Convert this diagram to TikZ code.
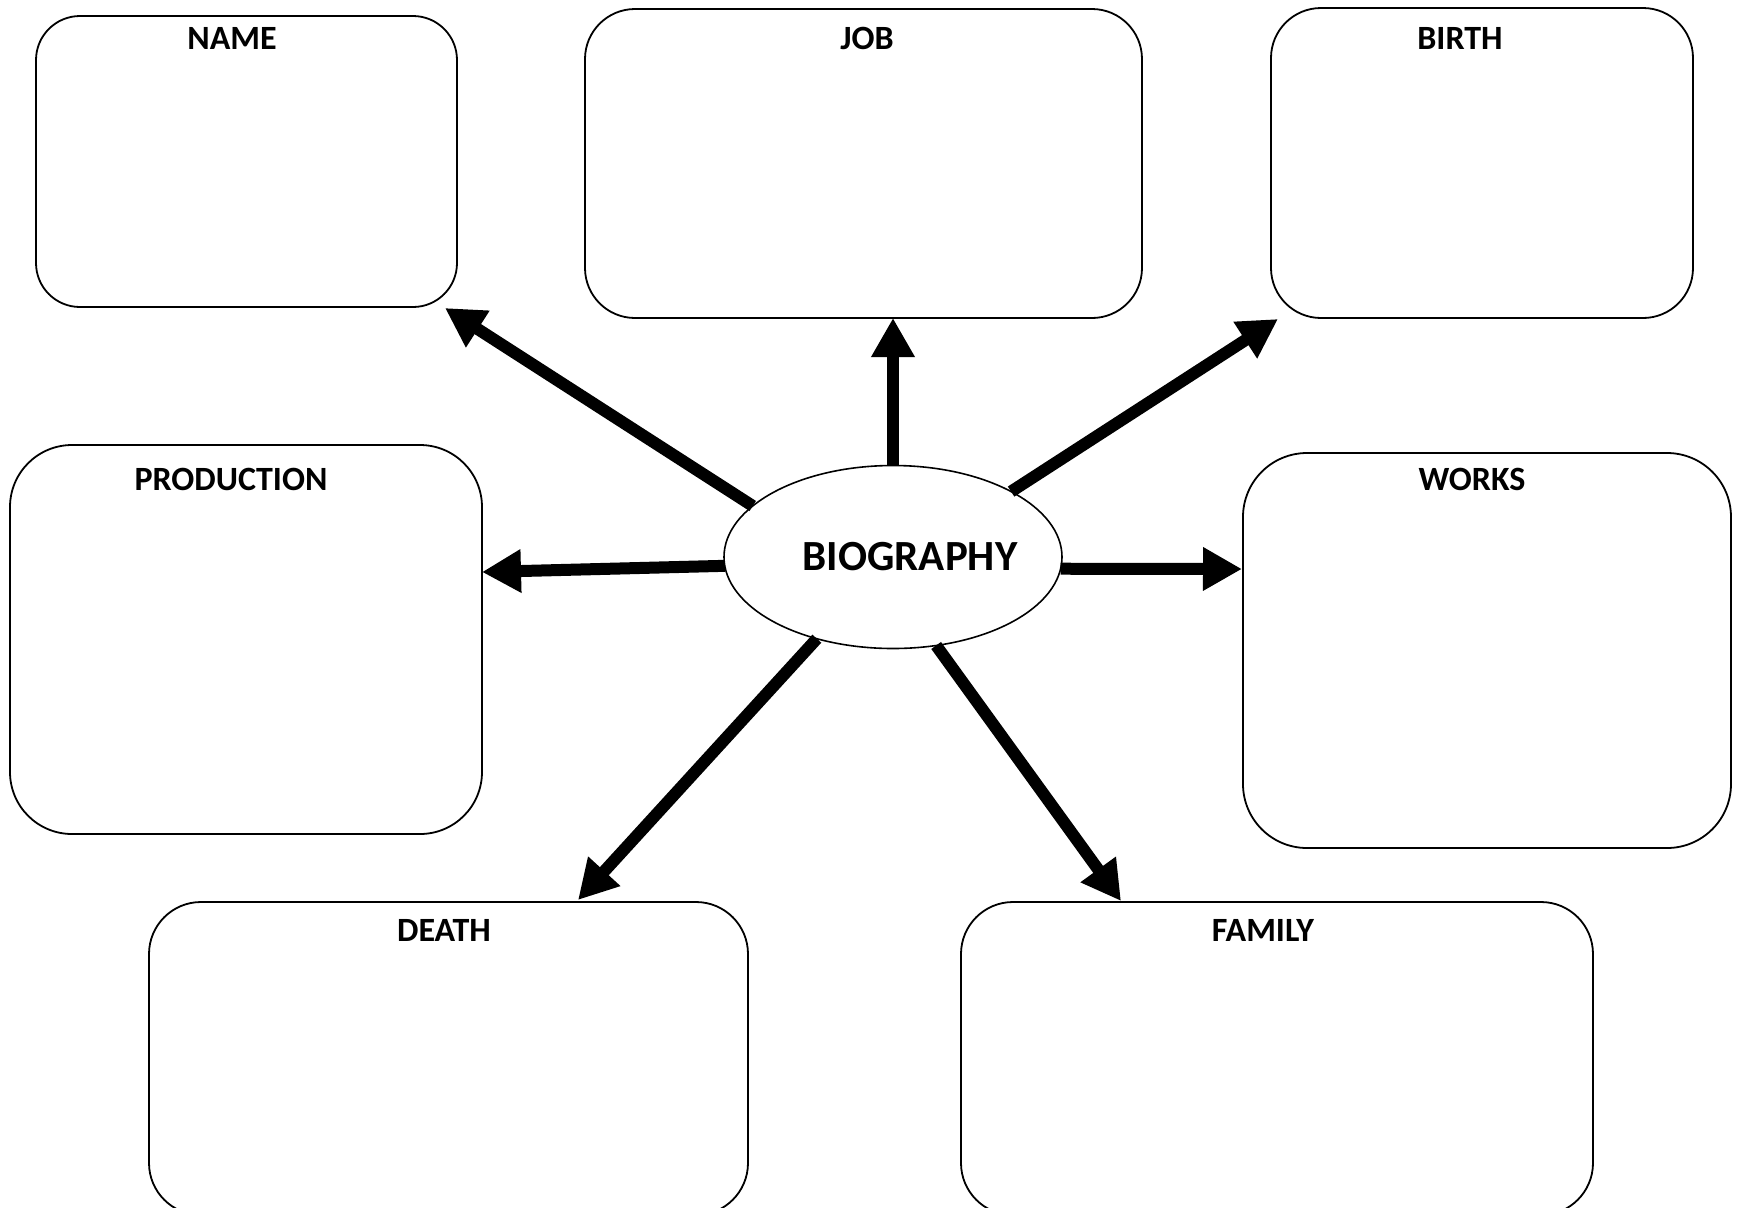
\documentclass[tikz,border=0pt]{standalone}
\usepackage{fontspec}
\setmainfont{Carlito}
\usetikzlibrary{shapes.geometric,arrows.meta,calc}
\begin{document}
\begin{tikzpicture}[x=0.5pt,y=-0.5pt,
  box/.style={draw,line width=0.9pt,inner sep=0pt,outer sep=0pt,rectangle},
  lbl/.style={anchor=base,inner sep=0pt,outer sep=0pt,font=\fontsize{17}{20}\selectfont\bfseries},
  arr/.style={line width=6pt,-{Triangle[length=19.5pt,width=20.5pt]}},
]
\useasboundingbox (0,0) rectangle (1742,1207);
\fill[white] (0,0) rectangle (1742,1207);

% boxes
\node[box,rounded corners=22pt,minimum width=210.5pt,minimum height=145.5pt] (name) at (246.5,161.5) {};
\node[box,rounded corners=25pt,minimum width=278.5pt,minimum height=154.5pt] (job) at (863.5,163.5) {};
\node[box,rounded corners=25pt,minimum width=211pt,minimum height=155pt] (birth) at (1482,163) {};
\node[box,rounded corners=31pt,minimum width=236pt,minimum height=194.5pt] (prod) at (246,639.5) {};
\node[box,rounded corners=32pt,minimum width=244pt,minimum height=197.5pt] (works) at (1487,650.5) {};
\node[box,rounded corners=26pt,minimum width=299.5pt,minimum height=156.5pt] (death) at (448.5,1058.5) {};
\node[box,rounded corners=26pt,minimum width=316pt,minimum height=156.5pt] (family) at (1277,1058.5) {};

% labels
\node[lbl] (namet) at (232,49) {NAME};
\node[lbl] (jobt) at (867,49) {JOB};
\node[lbl] (birtht) at (1460,49) {BIRTH};
\node[lbl] (prodt) at (231,490) {PRODUCTION};
\node[lbl] (workst) at (1472,490) {WORKS};
\node[lbl] (deatht) at (444,941) {DEATH};
\node[lbl] (familyt) at (1263,941) {FAMILY};

% centre
\node[ellipse,draw,line width=0.8pt,inner sep=0pt,outer sep=0pt,minimum width=169pt,minimum height=91.5pt] (bio) at (893,557) {};
\node[anchor=base,inner sep=0pt,font=\fontsize{21.5}{25}\selectfont\bfseries] (biot) at (910,570) {BIOGRAPHY};

% arrows
\draw[arr] (bio.160.6) -- ($(name.south east)+(-12,1)$);
\draw[arr] (bio.north) -- (bio.north |- job.south);
\draw[arr] (bio.29) -- ($(birth.south west)+(7,1)$);
\draw[arr] (bio.183.4) -- ($(prod.north east)+(0,127)$);
\draw[arr] (bio.-4.7) -- ($(works.north west)+(-1,116)$);
\draw[arr] (bio.227) -- ($(death.north west)+(429,-2)$);
\draw[arr] (bio.-64.7) -- ($(family.north west)+(160,-1)$);
\end{tikzpicture}
\end{document}
